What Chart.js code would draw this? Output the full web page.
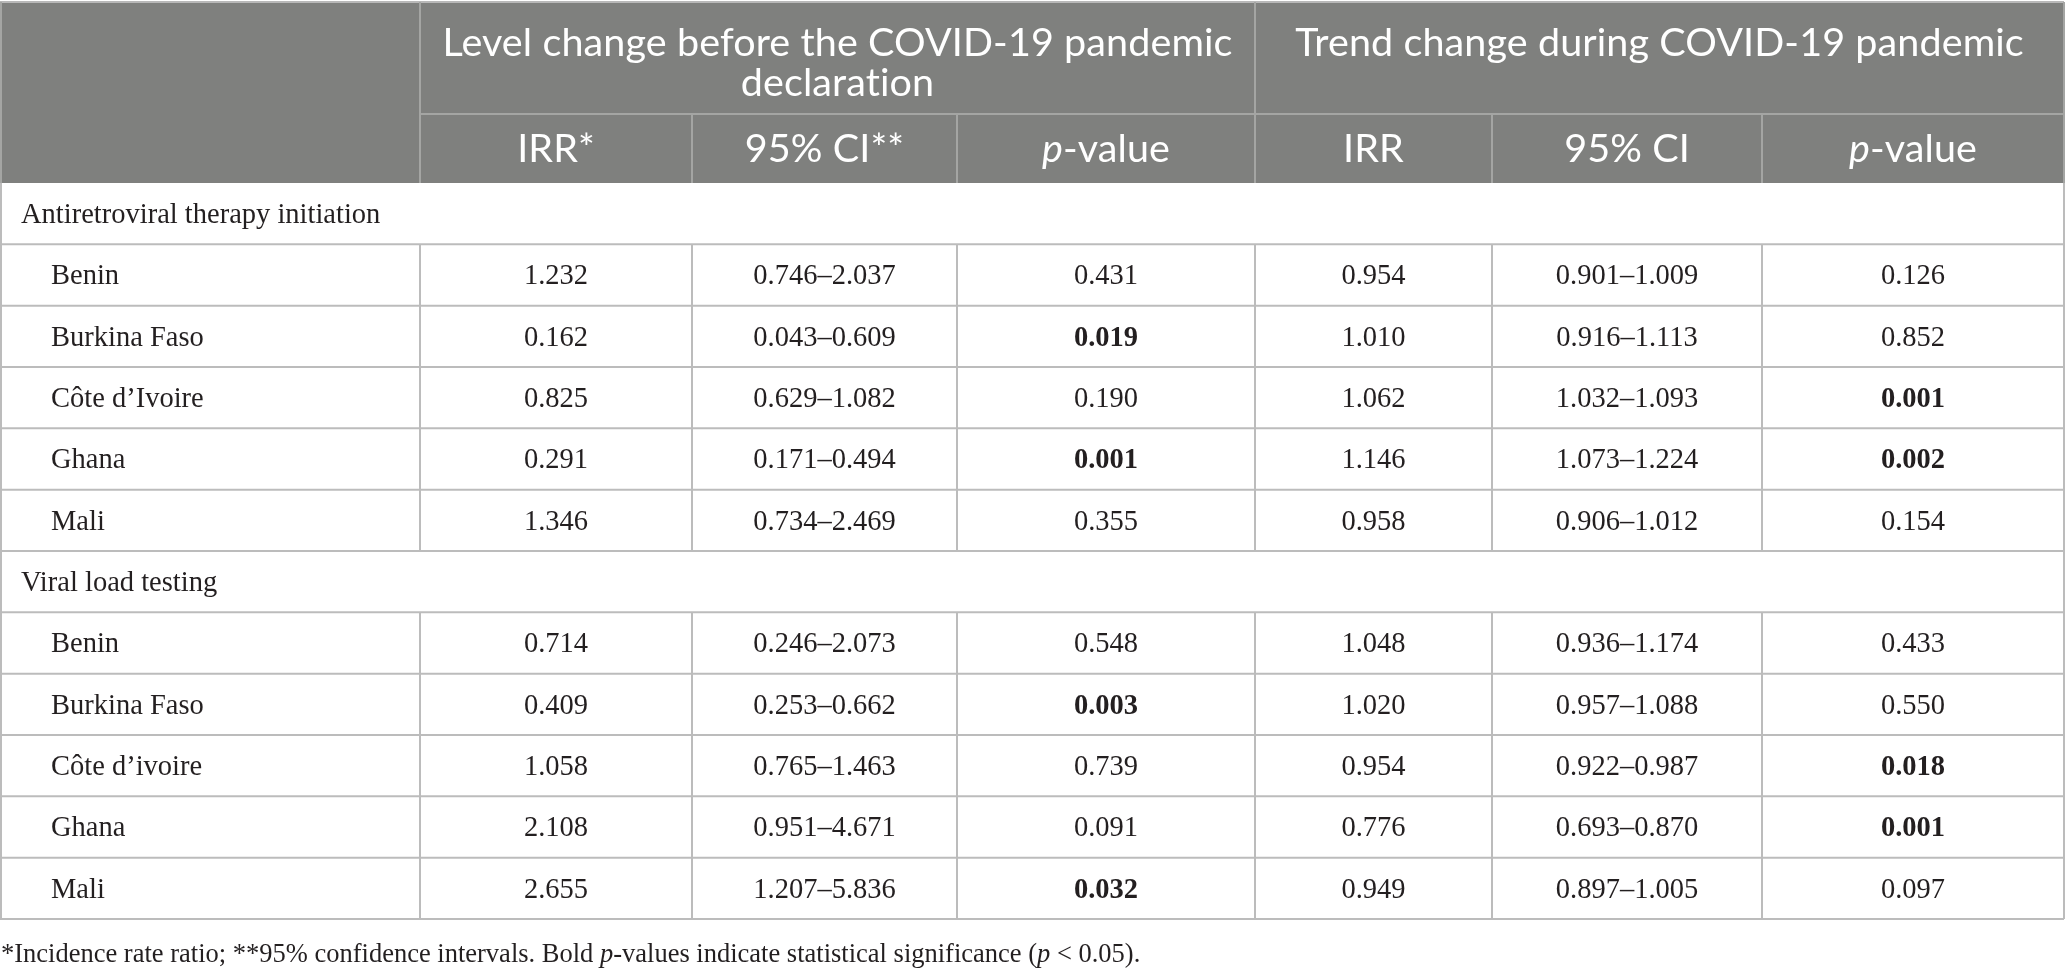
<!DOCTYPE html>
<html lang="en">
<head>
<meta charset="UTF-8">
<title>Level and trend change table</title>
<script src="https://cdn.jsdelivr.net/npm/chart.js@4.4.1/dist/chart.umd.min.js"></script>
<style>
  html, body { margin: 0; padding: 0; background: #fff; }
  #wrap { width: 2067px; height: 974px; position: relative; }
</style>
</head>
<body>
<div id="wrap"><canvas id="tableChart"></canvas></div>
<script>
// ---- data ----
const sections = ['Antiretroviral therapy initiation', 'Viral load testing'];
const countriesArt = ['Benin', 'Burkina Faso', 'Côte d’Ivoire', 'Ghana', 'Mali'];
const countriesVl = ['Benin', 'Burkina Faso', 'Côte d’ivoire', 'Ghana', 'Mali'];

const groupHeaders = [
  ['Level change before the COVID-19 pandemic', 'declaration'],
  ['Trend change during COVID-19 pandemic']
];
// sub headers as runs of [text, style]  (n = normal, i = italic)
const subHeaders = [
  [['IRR*', 'n']], [['95% CI**', 'n']], [['p', 'i'], ['-value', 'n']],
  [['IRR', 'n']], [['95% CI', 'n']], [['p', 'i'], ['-value', 'n']]
];

// antiretroviral therapy initiation
const artLevelIrr = [1.232, 0.162, 0.825, 0.291, 1.346];
const artLevelLo  = [0.746, 0.043, 0.629, 0.171, 0.734];
const artLevelHi  = [2.037, 0.609, 1.082, 0.494, 2.469];
const artLevelP   = [0.431, 0.019, 0.190, 0.001, 0.355];
const artTrendIrr = [0.954, 1.010, 1.062, 1.146, 0.958];
const artTrendLo  = [0.901, 0.916, 1.032, 1.073, 0.906];
const artTrendHi  = [1.009, 1.113, 1.093, 1.224, 1.012];
const artTrendP   = [0.126, 0.852, 0.001, 0.002, 0.154];

// viral load testing
const vlLevelIrr = [0.714, 0.409, 1.058, 2.108, 2.655];
const vlLevelLo  = [0.246, 0.253, 0.765, 0.951, 1.207];
const vlLevelHi  = [2.073, 0.662, 1.463, 4.671, 5.836];
const vlLevelP   = [0.548, 0.003, 0.739, 0.091, 0.032];
const vlTrendIrr = [1.048, 1.020, 0.954, 0.776, 0.949];
const vlTrendLo  = [0.936, 0.957, 0.922, 0.693, 0.897];
const vlTrendHi  = [1.174, 1.088, 0.987, 0.870, 1.005];
const vlTrendP   = [0.433, 0.550, 0.018, 0.001, 0.097];

const footnote = [
  ['*Incidence rate ratio; **95% confidence intervals. Bold ', 'n'], ['p', 'i'],
  ['-values indicate statistical significance (', 'n'], ['p', 'i'], [' < 0.05).', 'n']
];

// ---- layout ----
const colEdges = [0, 420, 692, 957, 1255, 1492, 1762, 2064];
const headFill = '#7f807e';
const headLine = '#a4a5a3';
const bodyLine = '#bcbcbc';
const textColor = '#231f20';
const sansFont = 'Lato, "Noto Sans", sans-serif';
const serifFont = '"Liberation Serif", "DejaVu Serif", serif';
const headSize = 39.5, bodySize = 28.5, noteSize = 26.5;

const f3 = v => v.toFixed(3);

// build table rows from arrays
function buildRows() {
  const rows = [];
  const add = (title, names, lIrr, lLo, lHi, lP, tIrr, tLo, tHi, tP) => {
    rows.push({ section: true, label: title });
    names.forEach((n, i) => {
      rows.push({
        section: false, label: n,
        cells: [
          [f3(lIrr[i]), false], [f3(lLo[i]) + '–' + f3(lHi[i]), false], [f3(lP[i]), lP[i] < 0.05],
          [f3(tIrr[i]), false], [f3(tLo[i]) + '–' + f3(tHi[i]), false], [f3(tP[i]), tP[i] < 0.05]
        ]
      });
    });
  };
  add(sections[0], countriesArt, artLevelIrr, artLevelLo, artLevelHi, artLevelP,
      artTrendIrr, artTrendLo, artTrendHi, artTrendP);
  add(sections[1], countriesVl, vlLevelIrr, vlLevelLo, vlLevelHi, vlLevelP,
      vlTrendIrr, vlTrendLo, vlTrendHi, vlTrendP);
  return rows;
}
const tableRows = buildRows();

// draws runs of text, centred or left aligned
function drawRuns(ctx, runs, x, y, size, family, align, color) {
  const fontOf = s => (s === 'i' ? 'italic ' : s === 'b' ? 'bold ' : '') + size + 'px ' + family;
  let w = 0;
  runs.forEach(r => { ctx.font = fontOf(r[1]); w += ctx.measureText(r[0]).width; });
  let cx = align === 'center' ? x - w / 2 : x;
  ctx.fillStyle = color;
  ctx.textAlign = 'left';
  ctx.textBaseline = 'middle';
  runs.forEach(r => {
    ctx.font = fontOf(r[1]);
    ctx.fillText(r[0], cx, y);
    cx += ctx.measureText(r[0]).width;
  });
}

function line(ctx, x1, y1, x2, y2, color) {
  ctx.strokeStyle = color;
  ctx.lineWidth = 2;
  ctx.beginPath();
  ctx.moveTo(x1, y1);
  ctx.lineTo(x2, y2);
  ctx.stroke();
}

const tablePlugin = {
  id: 'tablePlugin',
  afterDraw(chart) {
    const ctx = chart.ctx;
    const xs = chart.scales.x, ys = chart.scales.y;
    const area = chart.chartArea;
    const px = v => xs.getPixelForValue(v);
    const band = ys.getPixelForValue(1) - ys.getPixelForValue(0);
    const left = px(colEdges[0]), right = px(colEdges[colEdges.length - 1]);

    ctx.save();

    // header block
    const hTop = area.top - 181, hMid = area.top - 69, hBot = area.top;
    ctx.fillStyle = headFill;
    ctx.fillRect(left, hTop, right - left + 1, hBot - hTop);
    line(ctx, left, hTop, right, hTop, '#b8b8b8');
    line(ctx, px(colEdges[1]), hTop, px(colEdges[1]), hBot, headLine);
    line(ctx, px(colEdges[4]), hTop, px(colEdges[4]), hBot, headLine);
    line(ctx, px(colEdges[1]), hMid, right, hMid, headLine);
    [2, 3, 5, 6].forEach(c => line(ctx, px(colEdges[c]), hMid, px(colEdges[c]), hBot, headLine));
    line(ctx, left + 1, hTop, left + 1, hBot, headLine);
    line(ctx, right, hTop, right, hBot, headLine);

    // group header text (tiny letter spacing keeps the "ti" ligature off)
    ctx.save();
    ctx.letterSpacing = '0.1px';
    const g1 = (px(colEdges[1]) + px(colEdges[4])) / 2;
    const g2 = (px(colEdges[4]) + px(colEdges[7])) / 2;
    drawRuns(ctx, [[groupHeaders[0][0], 'n']], g1, hTop + 41, headSize, sansFont, 'center', '#fff');
    drawRuns(ctx, [[groupHeaders[0][1], 'n']], g1, hTop + 81, headSize, sansFont, 'center', '#fff');
    drawRuns(ctx, [[groupHeaders[1][0], 'n']], g2, hTop + 41, headSize, sansFont, 'center', '#fff');
    subHeaders.forEach((runs, c) => {
      const cx = (px(colEdges[c + 1]) + px(colEdges[c + 2])) / 2;
      drawRuns(ctx, runs, cx, (hMid + hBot) / 2 + 1, headSize, sansFont, 'center', '#fff');
    });
    ctx.restore();

    // body rows
    tableRows.forEach((row, i) => {
      const yc = ys.getPixelForValue(i);
      const top = yc - band / 2, bot = yc + band / 2;
      const ty = yc + 2;
      line(ctx, left, bot, right, bot, bodyLine);
      if (row.section) {
        drawRuns(ctx, [[row.label, 'n']], left + 21, ty, bodySize, serifFont, 'left', textColor);
        return;
      }
      for (let c = 1; c < colEdges.length - 1; c++) {
        line(ctx, px(colEdges[c]), top, px(colEdges[c]), bot, bodyLine);
      }
      drawRuns(ctx, [[row.label, 'n']], left + 51, ty, bodySize, serifFont, 'left', textColor);
      row.cells.forEach((cell, c) => {
        const cx = (px(colEdges[c + 1]) + px(colEdges[c + 2])) / 2;
        drawRuns(ctx, [[cell[0], cell[1] ? 'b' : 'n']], cx, ty, bodySize, serifFont, 'center', textColor);
      });
    });
    line(ctx, left + 1, area.top, left + 1, area.bottom, bodyLine);
    line(ctx, right, area.top, right, area.bottom, bodyLine);

    // footnote
    drawRuns(ctx, footnote, left + 1, area.bottom + 36, noteSize, serifFont, 'left', textColor);

    ctx.restore();
  }
};

new Chart(document.getElementById('tableChart'), {
  type: 'scatter',
  data: {
    labels: tableRows.map(r => r.label),
    datasets: []
  },
  options: {
    responsive: true,
    maintainAspectRatio: false,
    animation: false,
    events: [],
    layout: { padding: { top: 183, bottom: 55, left: 0, right: 3 } },
    plugins: { legend: { display: false }, tooltip: { enabled: false } },
    scales: {
      x: { type: 'linear', min: colEdges[0], max: colEdges[colEdges.length - 1], display: false },
      y: { type: 'category', offset: true, display: false }
    }
  },
  plugins: [tablePlugin]
});
</script>
</body>
</html>
